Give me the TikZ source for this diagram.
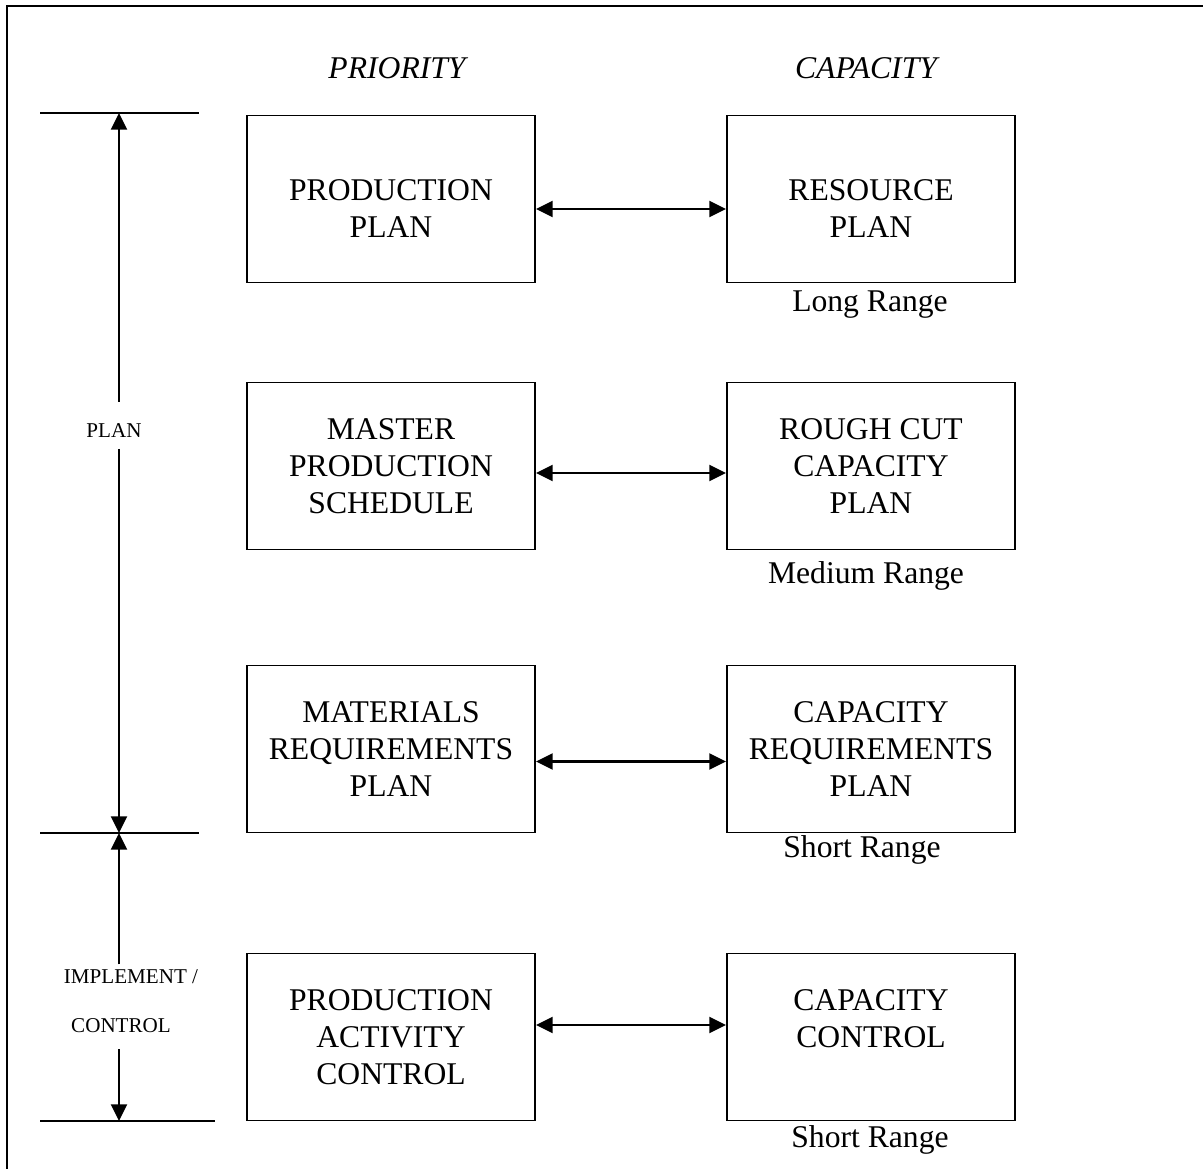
\documentclass[tikz,border=0pt]{standalone}
\usepackage{fontspec}
\setmainfont{Liberation Serif}
\usepackage{tikz}
\usetikzlibrary{arrows.meta}
\tikzstyle{box}=[draw, line width=1.1pt, minimum width=5.76cm, minimum height=3.34cm, align=center, inner sep=0pt, font=\fontsize{18}{21}\selectfont]
\tikzstyle{edge}=[line width=1.5pt, {Triangle[length=9.5pt,width=9pt]}-{Triangle[length=9.5pt,width=9pt]}]
\tikzstyle{edgeHalf}=[line width=1.5pt, -{Triangle[length=9.5pt,width=9pt]}]
\tikzstyle{tick}=[line width=1.1pt]
\tikzstyle{head}=[font=\fontsize{18}{21}\selectfont\itshape]
\tikzstyle{rangeTxt}=[font=\fontsize{18}{21}\selectfont]
\tikzstyle{side}=[inner sep=0pt, font=\fontsize{12}{14}\selectfont]

\begin{document}
\begin{tikzpicture}[x=0.02cm, y=-0.02cm]
      \useasboundingbox (0,0) rectangle (1203,1169);
      \draw[tick] (7,1169) -- (7,6) -- (1203,6);
      % column heads
      \node(pri) [head] at (397,68){PRIORITY};
      \node(cap) [head] at (866,68){CAPACITY};
      % priority side
      \node(pp) [box] at (391,199){\rule{0pt}{1.25em}PRODUCTION\\PLAN};
      \node(mps) [box] at (391,466){MASTER\\PRODUCTION\\SCHEDULE};
      \node(mrp) [box] at (391,749){MATERIALS\\REQUIREMENTS\\PLAN};
      \node(pac) [box] at (391,1037){PRODUCTION\\ACTIVITY\\CONTROL};
      % capacity side
      \node(rp) [box] at (871,199){\rule{0pt}{1.25em}RESOURCE\\PLAN};
      \node(rccp) [box] at (871,466){ROUGH CUT\\CAPACITY\\PLAN};
      \node(crp) [box] at (871,749){CAPACITY\\REQUIREMENTS\\PLAN};
      \node(cc) [box] at (871,1037){CAPACITY\\CONTROL\\~};
      \node(lr) [rangeTxt] at (870,305){Long Range};
      \node(mr) [rangeTxt] at (866,576){Medium Range};
      \node(sr1) [rangeTxt] at (862,850){Short Range};
      \node(sr2) [rangeTxt] at (870,1140){Short Range};
      \draw[edge] ([yshift=-0.2cm]pp.east) to ([yshift=-0.2cm]rp.west);
      \draw[edge] ([yshift=-0.14cm]mps.east) to ([yshift=-0.14cm]rccp.west);
      \draw[edge] ([yshift=-0.25cm]mrp.east) to ([yshift=-0.25cm]crp.west);
      \draw[edge] ([yshift=0.24cm]pac.east) to ([yshift=0.24cm]cc.west);
      % time scale on the left
      \coordinate (p1) at (119,113);
      \coordinate (p2) at (119,833);
      \coordinate (p3) at (119,1121);
      \draw[tick] (40,113) -- (199,113);
      \draw[tick] (40,833) -- (199,833);
      \draw[tick] (40,1121) -- (215,1121);
      \node(plan) [side] at (114,431){PLAN};
      \node(impl) [side] at (131,977){IMPLEMENT /};
      \node(ctrl) [side] at (121,1026){CONTROL};
      \draw[edgeHalf, shorten <=12.5pt] (plan.north -| p1) to (p1);
      \draw[edgeHalf, shorten <=6pt] (plan.south -| p2) to (p2);
      \draw[edgeHalf, shorten <=3pt] (impl.north -| p2) to (p2);
      \draw[edgeHalf, shorten <=9pt] (ctrl.south -| p3) to (p3);
\end{tikzpicture}
\end{document}
